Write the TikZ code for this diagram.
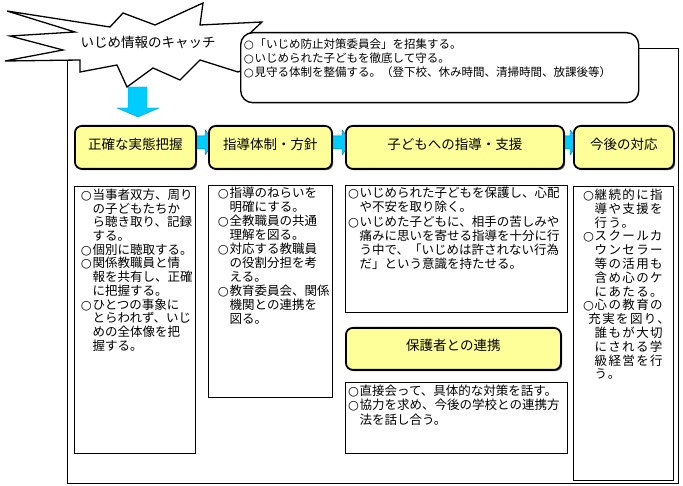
\documentclass[tikz,border=0pt]{standalone}
\usepackage{fontspec}
\setmainfont{Noto Sans CJK JP}
\newfontfamily\jpwide[LetterSpace=11]{Noto Sans CJK JP}
\newfontfamily\symfont{DejaVu Sans}
\usetikzlibrary{shadows,calc,backgrounds}
\definecolor{ybox}{RGB}{255,255,153}
\definecolor{cyanarrow}{RGB}{0,204,255}
\definecolor{cyanedge}{RGB}{0,120,160}
\newcommand\myind{\hspace*{1em}}
\newcommand\halfind{\hspace*{0.5em}}
\newcommand\maru{\makebox[1em][c]{\symfont ○}}
\newcommand\stageconn[2]{%
  \path[connshape] let \p1=(#1.east), \p2=(#2.west) in
    (\x1-3pt,\y1+11.5pt) -- (\x2-3pt,\y1+11.5pt) -- (\x2-3pt,\y1+17.5pt)
    -- (\x2+7pt,\y1+5pt) -- (\x2-3pt,\y1-7.5pt) -- (\x2-3pt,\y1-1.5pt)
    -- (\x1-3pt,\y1-1.5pt) -- cycle;}
\begin{document}
\begin{tikzpicture}[x=1pt,y=-1pt,
  frameline/.style={draw=black,line width=0.8pt},
  starshape/.style={draw=black,line width=1.3pt,fill=white,line join=miter},
  planbox/.style={draw=black,line width=1.4pt,fill=white,rounded corners=12pt,anchor=north west,inner sep=0pt},
  ystage/.style={draw=black,line width=1.8pt,fill=ybox,rounded corners=7pt,anchor=north west,inner sep=0pt,
    text height=11.9pt,text depth=8.6pt,font=\fontsize{13.5}{15}\selectfont,
    drop shadow={shadow xshift=1.3pt,shadow yshift=-1.3pt,fill=black!60,opacity=1}},
  tbox/.style={draw=black,line width=0.8pt,fill=white,anchor=north west,inner sep=0pt},
  btext/.style={anchor=north west,inner sep=0pt,align=left,font=\fontsize{12.5}{#1}\selectfont},
  btext/.default={13.8},
  connshape/.style={fill=cyanarrow,draw=cyanedge,line width=0.4pt},
  downarrow/.style={fill=cyanarrow,draw=cyanarrow!80!black,line width=0.4pt}
]
\useasboundingbox (0,0) rectangle (683,486);
% outer frame
\draw[frameline] (67,48) rectangle (678,483);
% star (catch)
\draw[starshape] (7,11) -- (110,27) -- (123,13) -- (155,25) -- (203,3) -- (200,25)
  -- (262,22) -- (248,35) -- (290,50) -- (238,72) -- (200,60) -- (180,80) -- (153,68)
  -- (127,87) -- (117,65) -- (80,72) -- (80,60) -- (5,61) -- (63,50) -- (10,36)
  -- (75,32) -- cycle;
\node[inner sep=0pt,font=\fontsize{13.5}{15}\selectfont] (catch) at (148,42) {いじめ情報のキャッチ};
% callout
\node[planbox,minimum width=398pt,minimum height=70pt] (plan) at (240,32) {};
\node[btext={14},font=\fontsize{11.5}{14}\selectfont] (plantext) at (243,38.5)
  {\maru「いじめ防止対策委員会」を招集する。\\
   \maru いじめられた子どもを徹底して守る。\\
   \maru 見守る体制を整備する。（登下校、休み時間、清掃時間、放課後等）};
% down arrow
\coordinate (arrtip) at (138,117);
\path[downarrow] (128,87) -- (147,87) -- (147,108) -- (159,108) -- (arrtip)
  -- (117,108) -- (128,108) -- cycle;
% stage boxes
\node[ystage,minimum width=121pt,minimum height=43pt] (s1) at (74,125) {正確な実態把握};
\node[ystage,minimum width=123pt,minimum height=43pt] (s2) at (208,125) {指導体制・方針};
\node[ystage,minimum width=218pt,minimum height=43pt] (s3) at (345,125) {子どもへの指導・支援};
\node[ystage,minimum width=100pt,minimum height=43pt] (s4) at (573,125) {今後の対応};
\node[ystage,minimum width=215pt,minimum height=42pt] (s5) at (345,327) {保護者との連携};
\begin{scope}[on background layer]
  \stageconn{s1}{s2}
  \stageconn{s2}{s3}
  \stageconn{s3}{s4}
\end{scope}
% text boxes
\node[tbox,minimum width=121pt,minimum height=267pt] (b1) at (74,186) {};
\node[btext={13.7}] (t1) at (80,188.7)
  {\maru 当事者双方、周り\\
   \myind の子どもたちか\\
   \myind ら聴き取り、記録\\
   \myind する。\\
   \maru 個別に聴取する。\\
   \maru 関係教職員と情\\
   \myind 報を共有し、正確\\
   \myind に把握する。\\
   \maru ひとつの事象に\\
   \myind とらわれず、いじ\\
   \myind めの全体像を把\\
   \myind 握する。};
\node[tbox,minimum width=124pt,minimum height=212pt] (b2) at (208,185) {};
\node[btext={14}] (t2) at (217,186.7)
  {\maru 指導のねらいを\\
   \myind 明確にする。\\
   \maru 全教職員の共通\\
   \myind 理解を図る。\\
   \maru 対応する教職員\\
   \myind の役割分担を考\\
   \myind える。\\
   \maru 教育委員会、関係\\
   \myind 機関との連携を\\
   \myind 図る。};
\node[tbox,minimum width=222pt,minimum height=127pt] (b3) at (345,185) {};
\node[btext={14.3}] (t3) at (347,186.7)
  {\maru いじめられた子どもを保護し、心配\\
   \myind や不安を取り除く。\\
   \maru いじめた子どもに、相手の苦しみや\\
   \myind 痛みに思いを寄せる指導を十分に行\\
   \myind う中で、「いじめは許されない行為\\
   \myind だ」という意識を持たせる。};
\node[tbox,minimum width=222pt,minimum height=71pt] (b4) at (345,382) {};
\node[btext={14.3}] (t4) at (347,384.7)
  {\maru 直接会って、具体的な対策を話す。\\
   \maru 協力を求め、今後の学校との連携方\\
   \myind 法を話し合う。};
\node[tbox,minimum width=100pt,minimum height=294pt] (b5) at (573,186) {};
\node[btext={13.8},font=\jpwide\fontsize{12.5}{13.8}\selectfont] (t5) at (582,188.7)
  {\maru 継続的に指\\
   \myind 導や支援を\\
   \myind 行う。\\
   \maru スクールカ\\
   \myind ウンセラー\\
   \myind 等の活用も\\
   \myind 含め心のケ\\
   \myind にあたる。\\
   \maru 心の教育の\\
   \halfind 充実を図り、\\
   \myind 誰もが大切\\
   \myind にされる学\\
   \myind 級経営を行\\
   \myind う。};
\end{tikzpicture}
\end{document}
